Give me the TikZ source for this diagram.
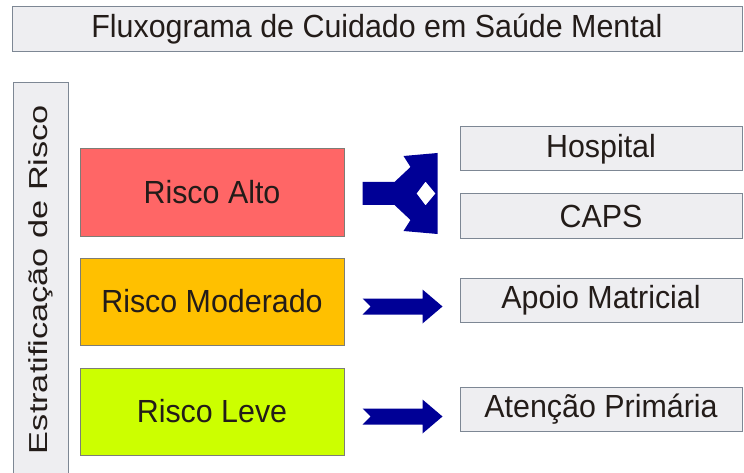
\documentclass[tikz,border=0pt]{standalone}
\usepackage{fontspec}
\setmainfont[FakeStretch=0.95]{Liberation Sans}
\newfontfamily\vfont[FakeStretch=1.32]{Liberation Sans}
\usetikzlibrary{positioning,calc}
\definecolor{boxfill}{RGB}{238,238,241}
\definecolor{boxline}{RGB}{125,135,148}
\definecolor{riskline}{RGB}{125,125,118}
\definecolor{alto}{RGB}{255,102,102}
\definecolor{moderado}{RGB}{255,192,0}
\definecolor{leve}{RGB}{204,255,0}
\definecolor{setacor}{RGB}{0,0,150}
\definecolor{texto}{RGB}{35,28,25}

\begin{document}
\begin{tikzpicture}[x=1pt,y=-1pt,
 dest/.style={draw=boxline,fill=boxfill,line width=1pt,minimum width=282pt,
 minimum height=44pt,inner sep=0pt,text=texto,font=\fontsize{32pt}{36pt}\selectfont},
 risk/.style={draw=riskline,line width=1pt,minimum width=264pt,minimum height=87pt,
 inner sep=0pt,text=texto,font=\fontsize{32pt}{36pt}\selectfont},
 seta/.pic={\fill[setacor] (0,-8) -- (60,-8) -- (60,-17) -- (80,0) -- (60,17)
 -- (60,8) -- (0,8) -- (8,0) -- cycle;},
 forquilha/.pic={\fill[setacor,even odd rule] (0,-11.5) -- (32,-11.5) -- (48,-26.5)
 -- (41,-37.5) -- (75,-40.5) -- (75,40.5) -- (41,37.5) -- (48,26.5) -- (32,11.5)
 -- (0,11.5) -- cycle (63,-12) -- (54,0) -- (63,12) -- (73,0) -- cycle;}]
 \useasboundingbox (0,0) rectangle (744,473);
 \node[dest,minimum width=730pt,minimum height=45pt] (titulo) at (377,29.5)
 {Fluxograma de Cuidado em Saúde Mental};
 \node[draw=boxline,fill=boxfill,line width=1pt,rotate=90,minimum width=393pt,
 minimum height=55pt,inner sep=0pt,text=texto,font=\vfont\fontsize{26pt}{30pt}\selectfont]
 (estrat) at (40.5,279.5) {Estratificação de Risco};
 \node[risk,fill=alto] (alto) at (212,192.5) {Risco Alto};
 \node[risk,fill=moderado,below=21pt of alto] (moderado) {Risco Moderado};
 \node[risk,fill=leve,below=22pt of moderado] (leve) {Risco Leve};
 \node[dest] (hospital) at (601,149) {Hospital};
 \node[dest,below=22pt of hospital] (caps) {CAPS};
 \node[dest] (apoio) at (601,300.5) {Apoio Matricial};
 \node[dest] (atencao) at (601,409.5) {Atenção Primária};
 \pic at ($(alto.east)+(18,1)$) {forquilha};
 \pic at ($(moderado.east)+(18,5)$) {seta};
 \pic at ($(leve.east)+(18,5)$) {seta};
\end{tikzpicture}
\end{document}
